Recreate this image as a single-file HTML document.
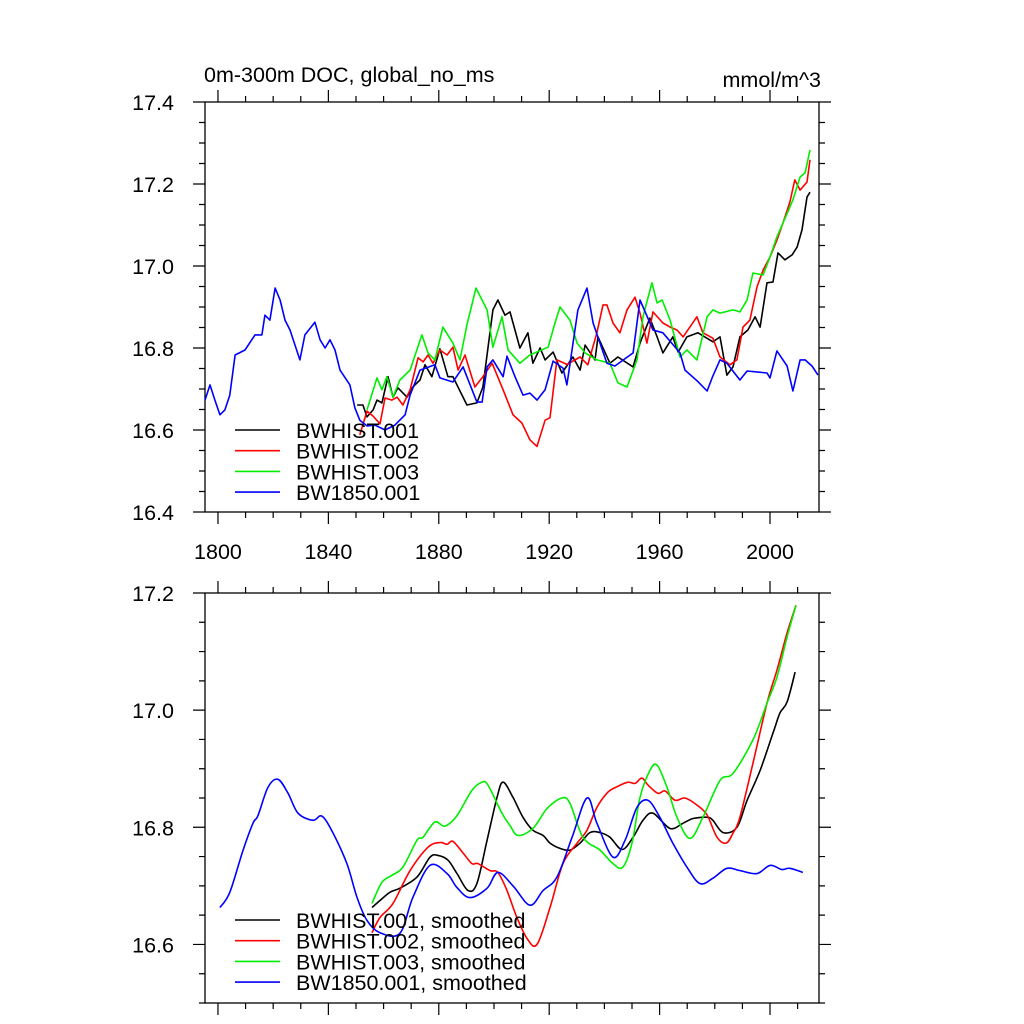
<!DOCTYPE html>
<html><head><meta charset="utf-8"><style>
html,body{margin:0;padding:0;background:#fff;}
svg{display:block;font-family:"Liberation Sans",sans-serif;}
</style></head><body>
<svg id="chart" width="1024" height="1024" viewBox="0 0 1024 1024" xmlns="http://www.w3.org/2000/svg">
<text x="204" y="82" font-size="21.5">0m-300m DOC, global_no_ms</text>
<text x="821" y="87" font-size="21.5" text-anchor="end">mmol/m^3</text>
</svg>
<script>
// ---- Top panel (raw) data ----
const rawBlackYears=[1850.4,1852.5,1854,1856.2,1857.6,1859.4,1861.6,1863.4,1865.2,1868.5,1870.6,1873.2,1875,1877.5,1880.4,1883.3,1885.1,1890.2,1893.8,1896,1899.6,1901.4,1904,1905.8,1909.4,1912.3,1914.1,1916.7,1918.5,1921.4,1924.6,1928.6,1931.2,1933,1936.6,1937.7,1942,1944.9,1950.4,1952.9,1956.5,1959.1,1961.2,1964.8,1966.7,1969.9,1973.9,1979.3,1981.9,1984.4,1986.6,1989.1,1992,1994.6,1996.4,1998.9,2001.1,2002.9,2005.4,2008,2009.8,2011.6,2013.4,2014.5];
const rawBlackValues=[16.661,16.661,16.632,16.649,16.673,16.666,16.73,16.68,16.703,16.68,16.705,16.722,16.759,16.73,16.798,16.73,16.73,16.661,16.666,16.705,16.893,16.917,16.88,16.888,16.8,16.837,16.763,16.8,16.771,16.79,16.739,16.778,16.746,16.807,16.771,16.827,16.763,16.778,16.754,16.812,16.873,16.827,16.788,16.827,16.79,16.827,16.837,16.815,16.827,16.734,16.754,16.827,16.844,16.876,16.851,16.959,16.961,17.032,17.015,17.027,17.046,17.088,17.168,17.18];
const rawRedYears=[1851.4,1854,1856.2,1858.7,1860.5,1863,1864.9,1867,1869.6,1872.5,1874.3,1876.1,1877.9,1880.4,1883,1885.1,1887,1889.5,1893.1,1896,1899.3,1903.3,1906.9,1910.1,1913,1915.6,1918.5,1920.3,1922.8,1926.4,1931.2,1934,1937.3,1939.5,1940.9,1943.1,1945.6,1948.2,1951.1,1952.9,1955.4,1957.6,1961.2,1963.8,1966.3,1968.5,1973.5,1975.7,1979.3,1981.9,1985.5,1988,1990.2,1992.7,1995.3,1997.5,2000,2002.5,2004.7,2007.2,2009,2010.9,2013.4,2014.5];
const rawRedValues=[16.588,16.646,16.634,16.615,16.678,16.673,16.68,16.661,16.698,16.776,16.766,16.783,16.763,16.795,16.783,16.802,16.746,16.783,16.705,16.73,16.763,16.698,16.637,16.617,16.576,16.56,16.624,16.63,16.771,16.76,16.778,16.759,16.837,16.905,16.905,16.861,16.837,16.893,16.924,16.885,16.812,16.888,16.861,16.851,16.844,16.827,16.876,16.837,16.824,16.778,16.759,16.771,16.851,16.868,16.949,16.99,17.022,17.063,17.105,17.156,17.21,17.185,17.205,17.259];
const rawGreenYears=[1854,1857.6,1859.4,1861.2,1863.4,1865.9,1869.6,1873.9,1876.1,1878.6,1881.5,1885.1,1887.7,1890.2,1893.5,1897.5,1899.6,1902.9,1905.1,1909.4,1913,1919.6,1922.1,1923.9,1927.5,1930.1,1933,1937.3,1942,1944.9,1948.2,1951.8,1954,1957.2,1959.1,1960.9,1963.8,1967.4,1969.9,1973.5,1977.2,1979.3,1981.9,1986.6,1989.1,1991.7,1993.8,1997.5,2000,2002.5,2004.7,2008.3,2010.9,2012.7,2014.5];
const rawGreenValues=[16.649,16.727,16.698,16.73,16.68,16.722,16.746,16.832,16.788,16.771,16.851,16.812,16.771,16.856,16.946,16.893,16.802,16.876,16.795,16.763,16.783,16.802,16.861,16.9,16.868,16.812,16.788,16.771,16.763,16.715,16.705,16.771,16.876,16.959,16.91,16.917,16.868,16.778,16.795,16.771,16.876,16.893,16.885,16.893,16.888,16.917,16.983,16.978,17.022,17.071,17.105,17.161,17.217,17.227,17.283];
const rawBlueYears=[1795.3,1797.1,1798.9,1800.7,1802.5,1804.3,1806.2,1809.8,1813.4,1815.9,1817,1818.8,1820.7,1822.5,1824.3,1826.1,1829.7,1831.5,1835.1,1837,1838.8,1840.6,1842.4,1844.2,1847.8,1849.6,1851.4,1854,1856.9,1860.5,1864.1,1867.8,1869.6,1873.2,1878.6,1880.4,1885.1,1888.8,1890.2,1893.8,1895.7,1897.5,1899.6,1903.3,1904.7,1907.6,1910.5,1913,1915.6,1918.5,1921.4,1925,1926.4,1930.4,1933.7,1935.9,1940.9,1943.8,1950.4,1952.9,1957.6,1961.2,1967.4,1969.2,1973.6,1977.2,1979.3,1981.9,1984.4,1989.1,1991.7,1998.9,2000,2002.5,2006.2,2008.3,2010.9,2012.7,2015.2,2017.4];
const rawBlueValues=[16.673,16.71,16.673,16.637,16.649,16.685,16.783,16.795,16.832,16.832,16.88,16.868,16.946,16.917,16.868,16.844,16.771,16.832,16.863,16.82,16.8,16.82,16.795,16.746,16.71,16.654,16.624,16.61,16.612,16.6,16.612,16.637,16.685,16.746,16.759,16.727,16.717,16.754,16.73,16.668,16.668,16.754,16.771,16.73,16.78,16.73,16.685,16.69,16.673,16.698,16.768,16.751,16.71,16.893,16.946,16.861,16.763,16.756,16.788,16.917,16.844,16.837,16.788,16.746,16.72,16.695,16.732,16.771,16.763,16.722,16.744,16.739,16.727,16.793,16.756,16.695,16.771,16.771,16.756,16.734];
// ---- Bottom panel (smoothed) data ----
const smBlackYears=[1855.8,1858.7,1862.3,1865.9,1872.1,1876.8,1879.7,1883.3,1886.6,1890.6,1893.8,1897.5,1901.1,1903.3,1906.9,1910.5,1914.1,1917.8,1920.3,1923.9,1927.5,1931.2,1934.8,1938.4,1942,1946.4,1950.4,1954,1957.6,1963.8,1968.5,1972.1,1977.2,1979.3,1983,1988,1991.7,1996.4,2001.1,2003.6,2006.2,2009.1];
const smBlackValues=[16.663,16.675,16.689,16.696,16.715,16.749,16.752,16.744,16.721,16.692,16.704,16.778,16.851,16.877,16.851,16.817,16.795,16.786,16.773,16.764,16.761,16.773,16.791,16.791,16.783,16.762,16.783,16.812,16.824,16.798,16.807,16.815,16.817,16.812,16.791,16.8,16.846,16.897,16.961,16.995,17.014,17.065];
const smRedYears=[1855.8,1858.7,1863.4,1869.6,1876.1,1880.4,1883,1885.1,1888.8,1892,1894.2,1898.6,1901.4,1904.7,1908.3,1912,1915.6,1920.3,1925,1930.1,1933.7,1937.3,1941.3,1944.9,1948.5,1951.1,1953.6,1955.8,1959.4,1962,1965.6,1969.2,1973.5,1977.2,1980.8,1984.1,1986.6,1989.1,1993.8,1998.9,2002.5,2006.2,2009.4];
const smRedValues=[16.62,16.646,16.67,16.726,16.766,16.774,16.771,16.776,16.756,16.738,16.738,16.726,16.723,16.692,16.646,16.61,16.6,16.663,16.738,16.773,16.795,16.834,16.86,16.87,16.877,16.875,16.884,16.872,16.858,16.862,16.846,16.85,16.838,16.821,16.783,16.773,16.79,16.817,16.909,17.012,17.068,17.132,17.179];
const smGreenYears=[1855.8,1859.4,1863,1867,1872.1,1874.3,1878.6,1882.2,1886.6,1892,1895.6,1897.8,1902.9,1905.8,1908.7,1914.1,1919.2,1924.6,1927.5,1932.2,1938.4,1943.1,1946.7,1950,1952.9,1956.5,1959.1,1962.7,1966.3,1971,1975.7,1981.9,1986.6,1993.8,1998.9,2002.5,2006.2,2009.4];
const smGreenValues=[16.67,16.706,16.718,16.732,16.778,16.783,16.809,16.802,16.82,16.863,16.877,16.872,16.824,16.803,16.786,16.798,16.832,16.85,16.841,16.783,16.761,16.738,16.732,16.773,16.851,16.897,16.906,16.868,16.817,16.781,16.817,16.88,16.892,16.949,17.012,17.056,17.125,17.179];
const smBlueYears=[1800.7,1804.3,1809.1,1812.7,1814.5,1818.1,1821.7,1825.4,1829,1834.4,1837.7,1841.7,1846.7,1850.4,1854,1858.7,1865.9,1870.6,1876.8,1883,1886.6,1891.3,1897.5,1901.4,1906.9,1913,1917.8,1922.8,1928.3,1933.7,1937.3,1943.1,1947.5,1951.8,1955.8,1960.1,1964.8,1969.9,1974.6,1979.3,1984.4,1989.1,1995.3,2000,2004.3,2007.2,2011.9];
const smBlueValues=[16.663,16.689,16.761,16.807,16.82,16.868,16.882,16.858,16.824,16.812,16.819,16.79,16.738,16.68,16.641,16.62,16.619,16.68,16.735,16.721,16.697,16.68,16.696,16.723,16.7,16.667,16.692,16.715,16.783,16.85,16.807,16.749,16.778,16.834,16.846,16.817,16.773,16.732,16.704,16.713,16.73,16.726,16.721,16.735,16.728,16.73,16.723];
const xTickLabels=["1800","1840","1880","1920","1960","2000"];
const topYTicks=["16.4","16.6","16.8","17.0","17.2","17.4"];
const botYTicks=["16.6","16.8","17.0","17.2"];
const topLegend=["BWHIST.001","BWHIST.002","BWHIST.003","BW1850.001"];
const botLegend=["BWHIST.001, smoothed","BWHIST.002, smoothed","BWHIST.003, smoothed","BW1850.001, smoothed"];

const NS="http://www.w3.org/2000/svg";
const svg=document.getElementById('chart');
const X0=205,X1=819,YR0=1795.3,YR1=2017.75;
const FS=21.5;
const xs=y=>X0+(y-YR0)/(YR1-YR0)*(X1-X0);
function mk(tag,attrs,parent){const e=document.createElementNS(NS,tag);for(const k in attrs)e.setAttribute(k,attrs[k]);(parent||svg).appendChild(e);return e;}
const colors=["#000000","#ff0000","#00ee00","#0000ff"];

function pathFor(pts,smooth){
  if(!smooth){return pts.map((p,j)=>(j?'L':'M')+p[0].toFixed(1)+' '+p[1].toFixed(1)).join('');}
  let d='M'+pts[0][0].toFixed(1)+' '+pts[0][1].toFixed(1);
  for(let i=0;i<pts.length-1;i++){
    const p0=pts[Math.max(0,i-1)],p1=pts[i],p2=pts[i+1],p3=pts[Math.min(pts.length-1,i+2)];
    const c1=[p1[0]+(p2[0]-p0[0])/6,p1[1]+(p2[1]-p0[1])/6];
    const c2=[p2[0]-(p3[0]-p1[0])/6,p2[1]-(p3[1]-p1[1])/6];
    d+=`C${c1[0].toFixed(1)} ${c1[1].toFixed(1)} ${c2[0].toFixed(1)} ${c2[1].toFixed(1)} ${p2[0].toFixed(1)} ${p2[1].toFixed(1)}`;
  }
  return d;
}

function panel(name,top,bot,vmin,vmax,yticks,minorStep,series,legend,legY,showXLabels,smooth){
  const g=mk('g',{});
  
  
  const ys=v=>bot-(v-vmin)/(vmax-vmin)*(bot-top);
  const frame=mk('rect',{x:X0,y:top,width:X1-X0,height:bot-top,fill:'none',stroke:'#000','stroke-width':1.3},g);
  
  
  let tk='';
  for(let v=vmin;v<=vmax+1e-9;v+=minorStep){
    const yy=ys(v);const major=yticks.some(t=>Math.abs(+t-v)<1e-6);const L=major?12:6;
    tk+=`M${X0} ${yy}h${-L}M${X1} ${yy}h${L}`;
  }
  for(let yr=1800;yr<=2010;yr+=10){
    const xx=xs(yr);const L=(yr-1800)%40===0?12:6;
    tk+=`M${xx} ${bot}v${L}M${xx} ${top}v${-L}`;
  }
  const tp=mk('path',{d:tk,stroke:'#000','stroke-width':1.2,fill:'none'},g);
  
  
  yticks.forEach(t=>{
    const e=mk('text',{x:174,y:ys(+t)+8,'font-size':FS,'text-anchor':'end'},g);
    
    
    e.textContent=t;
  });
  if(showXLabels){xTickLabels.forEach(t=>{
    const e=mk('text',{x:xs(+t),y:bot+47,'font-size':FS,'text-anchor':'middle'},g);
    
    
    e.textContent=t;
  });}
  series.forEach((s,i)=>{
    const pts=s[0].map((yr,j)=>[xs(yr),ys(s[1][j])]);
    const p=mk('path',{d:pathFor(pts,smooth),stroke:colors[i],'stroke-width':1.6,fill:'none','stroke-linejoin':'round'},g);
    
    
  });
  legend.forEach((t,i)=>{
    const yy=legY+i*20.7;
    const l=mk('line',{x1:235,x2:280,y1:yy,y2:yy,stroke:colors[i],'stroke-width':1.6},g);
    
    
    const e=mk('text',{x:296,y:yy+8,'font-size':FS},g);
    
    
    e.textContent=t;
  });
}
panel('top-panel',102,512,16.4,17.4,topYTicks,0.05,
 [[rawBlackYears,rawBlackValues],[rawRedYears,rawRedValues],[rawGreenYears,rawGreenValues],[rawBlueYears,rawBlueValues]],topLegend,430,true,false);
panel('bottom-panel',593,1003,16.5,17.2,botYTicks,0.05,
 [[smBlackYears,smBlackValues],[smRedYears,smRedValues],[smGreenYears,smGreenValues],[smBlueYears,smBlueValues]],botLegend,920,false,true);
</script>
</body></html>
